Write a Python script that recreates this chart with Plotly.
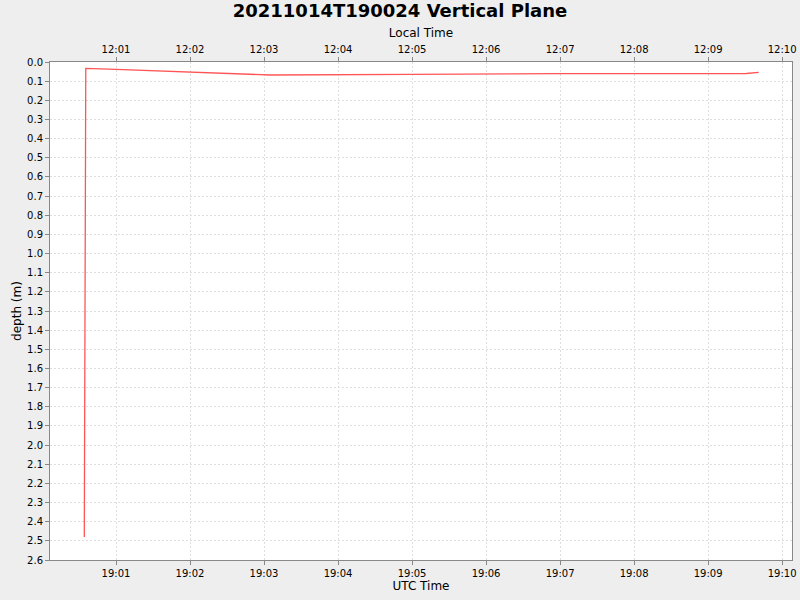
import plotly.graph_objects as go
import pandas as pd

utc_times = ["2021-10-14 19:00:34.300", "2021-10-14 19:00:35.500", "2021-10-14 19:01:00.000",
             "2021-10-14 19:02:00.000", "2021-10-14 19:03:05.000", "2021-10-14 19:05:00.000",
             "2021-10-14 19:07:00.000", "2021-10-14 19:09:31.000", "2021-10-14 19:09:41.000"]
depths = [2.48, 0.033, 0.038, 0.052, 0.068, 0.065, 0.061, 0.060, 0.054]
tz_offset_hours = -7
x_range = ["2021-10-14 19:00:06.500", "2021-10-14 19:10:08.000"]

utc = pd.to_datetime(utc_times, format="ISO8601")
local = utc + pd.Timedelta(hours=tz_offset_hours)
xr = pd.to_datetime(x_range, format="ISO8601")
xr_local = xr + pd.Timedelta(hours=tz_offset_hours)
fmt = "%Y-%m-%d %H:%M:%S.%f"

font = "DejaVu Sans"
fig = go.Figure()
fig.add_trace(go.Scatter(x=utc, y=depths, mode="lines",
                         line=dict(color="#FF5555", width=1.3), showlegend=False))
fig.add_trace(go.Scatter(x=local, y=depths, mode="lines", xaxis="x2",
                         line=dict(color="rgba(0,0,0,0)", width=0), showlegend=False,
                         hoverinfo="skip"))

axis_common = dict(showline=True, linecolor="#888888", linewidth=1,
                   ticks="outside", ticklen=4, tickcolor="#888888",
                   tickfont=dict(family=font, size=10, color="#000"),
                   gridcolor="#DEDEDE", griddash="2px,2px", gridwidth=1,
                   zeroline=False, automargin=False)

fig.update_layout(
    width=800, height=600,
    paper_bgcolor="#EEEEEE", plot_bgcolor="white",
    margin=dict(l=50, r=8, t=62, b=40, autoexpand=False),
    title=dict(text="<b>20211014T190024 Vertical Plane</b>", x=0.5, xanchor="center",
               y=0.993, yanchor="top", font=dict(family=font, size=18, color="#000")),
    xaxis=dict(type="date", range=[t.strftime(fmt) for t in xr], dtick=60000, tickformat="%H:%M",
               title=dict(text="UTC Time", font=dict(family=font, size=12, color="#000"), standoff=3),
               mirror=True, showgrid=True, **axis_common),
    xaxis2=dict(type="date", range=[t.strftime(fmt) for t in xr_local], dtick=60000, tickformat="%H:%M",
                overlaying="x", side="top", showgrid=False,
                title=dict(text="Local Time", font=dict(family=font, size=12, color="#000"), standoff=3),
                **axis_common),
    yaxis=dict(range=[2.6, 0.0], dtick=0.1, tickformat=".1f",
               title=dict(text="depth (m)", font=dict(family=font, size=12, color="#000"), standoff=2),
               mirror=True, showgrid=True, **axis_common),
)
fig.write_html("out.html", config={"displayModeBar": False},
               post_script="document.body.style.margin='0';")
